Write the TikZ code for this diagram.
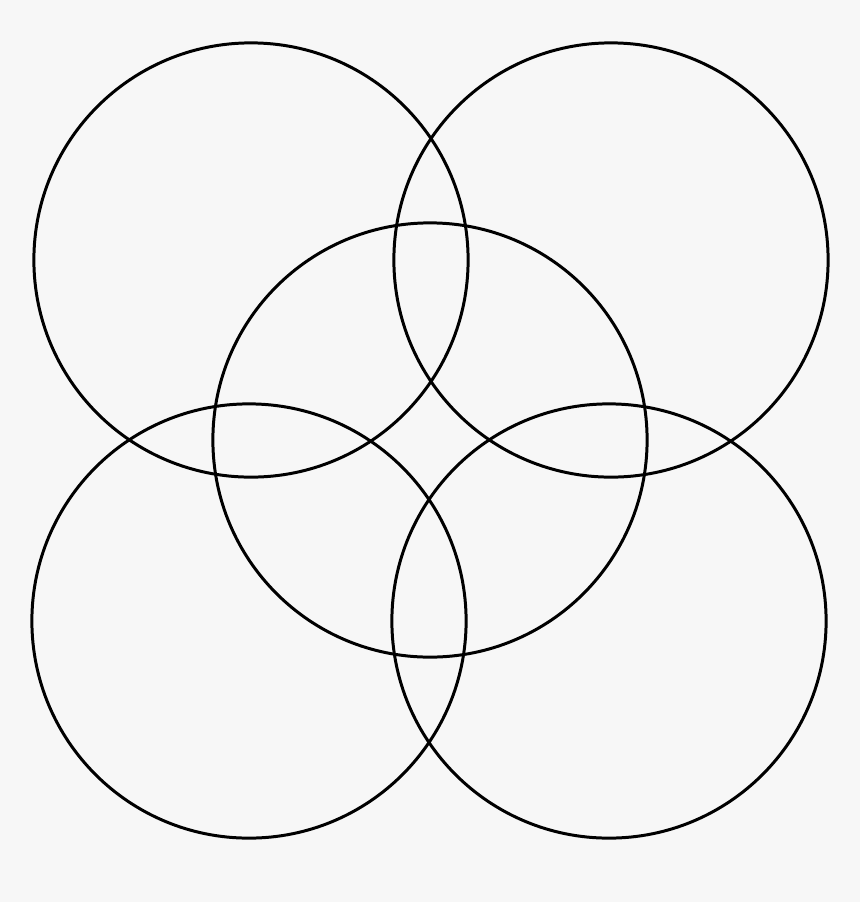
\documentclass[tikz,border=0pt]{standalone}
\definecolor{paper}{HTML}{F7F7F7}
\tikzset{
  ring/.style={draw, circle, line width=0.85pt, minimum size=4.34cm, inner sep=0pt}
}
\begin{document}
\begin{tikzpicture}[x=0.01cm, y=-0.01cm]
      \fill[paper] (0,0) rectangle (860,902);
      \useasboundingbox (0,0) rectangle (860,902);
      \draw
        (251,260) node[ring] (tl){}
        (611,260) node[ring] (tr){}
        (430,440) node[ring] (mid){}
        (249,621) node[ring] (bl){}
        (609,621) node[ring] (br){};
    \end{tikzpicture}
\end{document}
